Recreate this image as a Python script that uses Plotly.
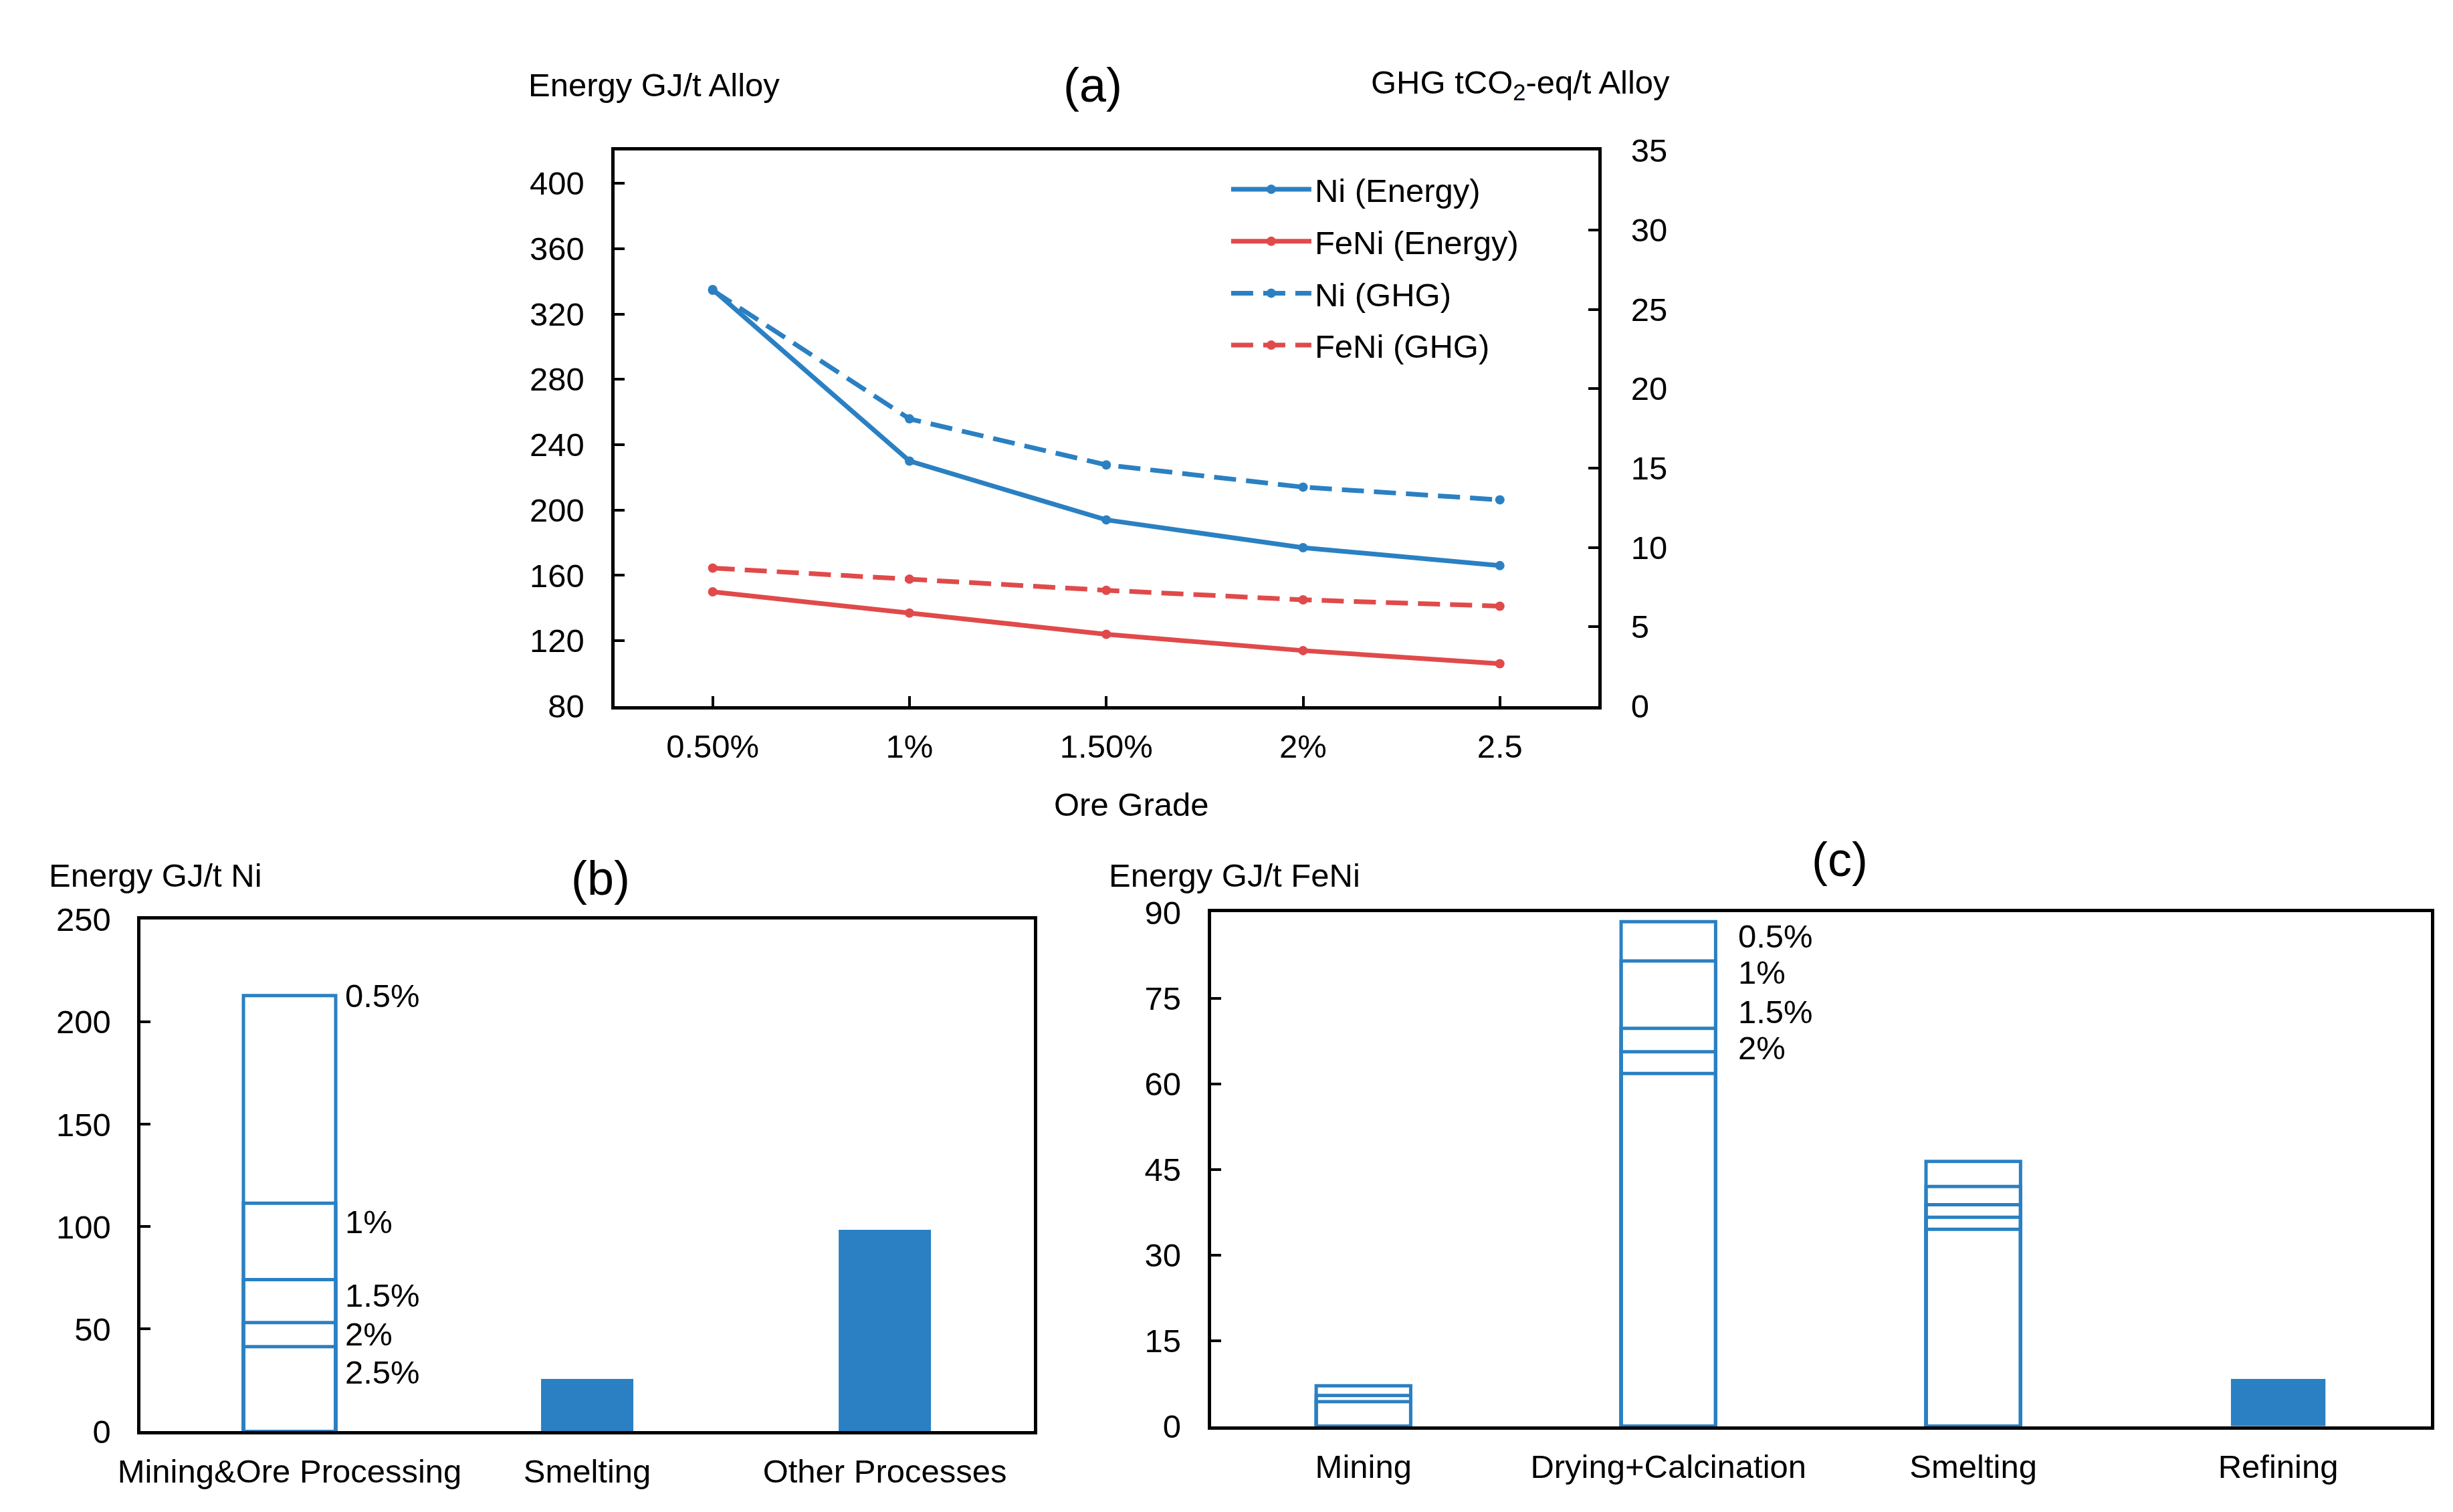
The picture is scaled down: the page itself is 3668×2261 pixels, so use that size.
import plotly.graph_objects as go

W, H = 3668, 2261
BLUE = "#2A80C2"
RED = "#E04A4A"
FONT = "Liberation Sans, Arial, sans-serif"
FS = 49

# ---------------- data ----------------
ore_grades = ["0.50%", "1%", "1.50%", "2%", "2.5"]
ni_energy = [335, 230, 194, 177, 166]
feni_energy = [150, 137, 124, 114, 106]
ni_ghg = [26.2, 18.1, 15.2, 13.8, 13.0]
feni_ghg = [8.7, 8.0, 7.3, 6.7, 6.3]

ni_processes = ["Mining&Ore Processing", "Smelting", "Other Processes"]
ni_grade_labels = ["0.5%", "1%", "1.5%", "2%", "2.5%"]
ni_mining_by_grade = [212.9, 111.5, 74.2, 53.2, 41.4]
ni_fixed_values = [25.6, 98.5]  # Smelting, Other Processes

feni_processes = ["Mining", "Drying+Calcination", "Smelting", "Refining"]
feni_grade_labels = ["0.5%", "1%", "1.5%", "2%"]
feni_mining_by_grade = [7.1, 5.4, 4.3]
feni_drying_by_grade = [88.4, 81.5, 69.7, 65.6, 61.8]
feni_smelting_by_grade = [46.4, 42.0, 38.8, 36.6, 34.5]
feni_refining = [8.3]

# ---------------- figure ----------------
fig = go.Figure()

line_series = [
    ("Ni (Energy)", ni_energy, BLUE, "solid", "y"),
    ("FeNi (Energy)", feni_energy, RED, "solid", "y"),
    ("Ni (GHG)", ni_ghg, BLUE, "33px,15px", "y2"),
    ("FeNi (GHG)", feni_ghg, RED, "33px,15px", "y2"),
]
for i, (name, vals, col, dash, yax) in enumerate(line_series):
    fig.add_trace(go.Scatter(
        x=ore_grades, y=vals, name=name, mode="lines+markers",
        line=dict(color=col, width=7, dash=dash),
        marker=dict(color=col, size=14, symbol="circle"),
        xaxis="x", yaxis=yax, legendgroup=f"g{i}", showlegend=True,
    ))

BW = 0.31
OUT_LW = 5
# (b) outlined Mining bar, one outline per ore grade
for v in ni_mining_by_grade:
    fig.add_trace(go.Bar(
        x=[ni_processes[0]], y=[v], width=BW, xaxis="x2", yaxis="y3",
        marker=dict(color="rgba(0,0,0,0)", line=dict(color=BLUE, width=OUT_LW)),
        showlegend=False,
    ))
fig.add_trace(go.Bar(
    x=ni_processes[1:], y=ni_fixed_values, width=BW, xaxis="x2", yaxis="y3",
    marker=dict(color=BLUE, line=dict(width=0)), showlegend=False,
))

# (c) outlined bars per ore grade
ngr = max(len(feni_mining_by_grade), len(feni_drying_by_grade), len(feni_smelting_by_grade))
for i in range(ngr):
    xs, ys = [], []
    for proc, arr in zip(feni_processes[:3], [feni_mining_by_grade, feni_drying_by_grade, feni_smelting_by_grade]):
        if i < len(arr):
            xs.append(proc)
            ys.append(arr[i])
    fig.add_trace(go.Bar(
        x=xs, y=ys, width=BW, xaxis="x3", yaxis="y4",
        marker=dict(color="rgba(0,0,0,0)", line=dict(color=BLUE, width=OUT_LW)),
        showlegend=False,
    ))
fig.add_trace(go.Bar(
    x=[feni_processes[3]], y=feni_refining, width=BW, xaxis="x3", yaxis="y4",
    marker=dict(color=BLUE, line=dict(width=0)), showlegend=False,
))

# ---------------- axes ----------------
AX_LW = 5
tickfont = dict(family=FONT, size=FS, color="black")
common = dict(showline=True, linecolor="black", linewidth=AX_LW, showgrid=False,
              zeroline=False, tickfont=tickfont)

xa = [0.241, 0.646]; ya = [0.5374, 0.9138]
xb = [0.0461, 0.4136]; yb = [0.046, 0.3927]
xc = [0.4866, 0.9886]; yc = [0.0495, 0.3976]

fig.update_layout(
    xaxis=dict(domain=xa, anchor="y", type="category", range=[-0.5, 4.5], mirror=True,
               ticks="inside", ticklen=15, tickwidth=4, tickcolor="black",
               ticklabelstandoff=13, **common),
    yaxis=dict(domain=ya, anchor="x", range=[80, 420], tick0=80, dtick=40,
               ticks="inside", ticklen=15, tickwidth=4, tickcolor="black",
               ticklabelstandoff=30, **common),
    yaxis2=dict(overlaying="y", side="right", anchor="x", range=[0, 35], dtick=5,
                ticks="inside", ticklen=15, tickwidth=4, tickcolor="black",
                ticklabelstandoff=34, **common),
    xaxis2=dict(domain=xb, anchor="y3", type="category", range=[-0.5, 2.5], mirror=True,
                ticks="", ticklabelstandoff=13, **common),
    yaxis3=dict(domain=yb, anchor="x2", range=[0, 250], dtick=50, mirror=True,
                ticks="inside", ticklen=15, tickwidth=4, tickcolor="black",
                ticklabelstandoff=30, **common),
    xaxis3=dict(domain=xc, anchor="y4", type="category", range=[-0.5, 3.5], mirror=True,
                ticks="", ticklabelstandoff=13, **common),
    yaxis4=dict(domain=yc, anchor="x3", range=[0, 90], dtick=15, mirror=True,
                ticks="inside", ticklen=15, tickwidth=4, tickcolor="black",
                ticklabelstandoff=30, **common),
)

# ---------------- annotations ----------------
ann = []
def txt(text, x, y, xanchor="center", size=FS, **kw):
    ann.append(dict(text=text, x=x, y=y, xref="paper", yref="paper", xanchor=xanchor,
                    yanchor="middle", showarrow=False,
                    font=dict(family=FONT, size=size, color="black"), **kw))

txt("(a)", 0.4378, 0.9584, size=72)
txt("Energy GJ/t Alloy", 0.205, 0.9584, xanchor="left")
txt("GHG tCO<sub>2</sub>-eq/t Alloy", 0.6761, 0.9584, xanchor="right")
txt("Ore Grade", 0.4537, 0.4706)
txt("(b)", 0.2353, 0.4211, size=72)
txt("Energy GJ/t Ni", 0.0076, 0.4228, xanchor="left")
txt("(c)", 0.7454, 0.4334, size=72)
txt("Energy GJ/t FeNi", 0.4441, 0.4228, xanchor="left")

# grade labels next to the outlined bars
b_shift = [0, -28, -24, -17, -38]
for lab, v, s in zip(ni_grade_labels, ni_mining_by_grade, b_shift):
    ann.append(dict(text=lab, x=BW / 2, y=v, xref="x2", yref="y3", xanchor="left",
                    yanchor="middle", xshift=12, yshift=s, showarrow=False,
                    font=dict(family=FONT, size=FS, color="black")))
c_shift = [-22, -17, 25, 6]
for lab, v, s in zip(feni_grade_labels, feni_drying_by_grade, c_shift):
    ann.append(dict(text=lab, x=1 + BW / 2, y=v, xref="x3", yref="y4", xanchor="left",
                    yanchor="middle", xshift=32, yshift=s, showarrow=False,
                    font=dict(family=FONT, size=FS, color="black")))

fig.update_layout(
    annotations=ann,
    width=W, height=H, autosize=False,
    margin=dict(l=0, r=0, t=0, b=0),
    paper_bgcolor="white", plot_bgcolor="white",
    barmode="overlay",
    font=dict(family=FONT, size=FS, color="black"),
    legend=dict(x=0.4935, y=0.905, xanchor="left", yanchor="top",
                bgcolor="rgba(0,0,0,0)", font=dict(family=FONT, size=FS, color="black"),
                itemwidth=120, tracegroupgap=11, traceorder="grouped"),
)

fig.write_html("out.html")
